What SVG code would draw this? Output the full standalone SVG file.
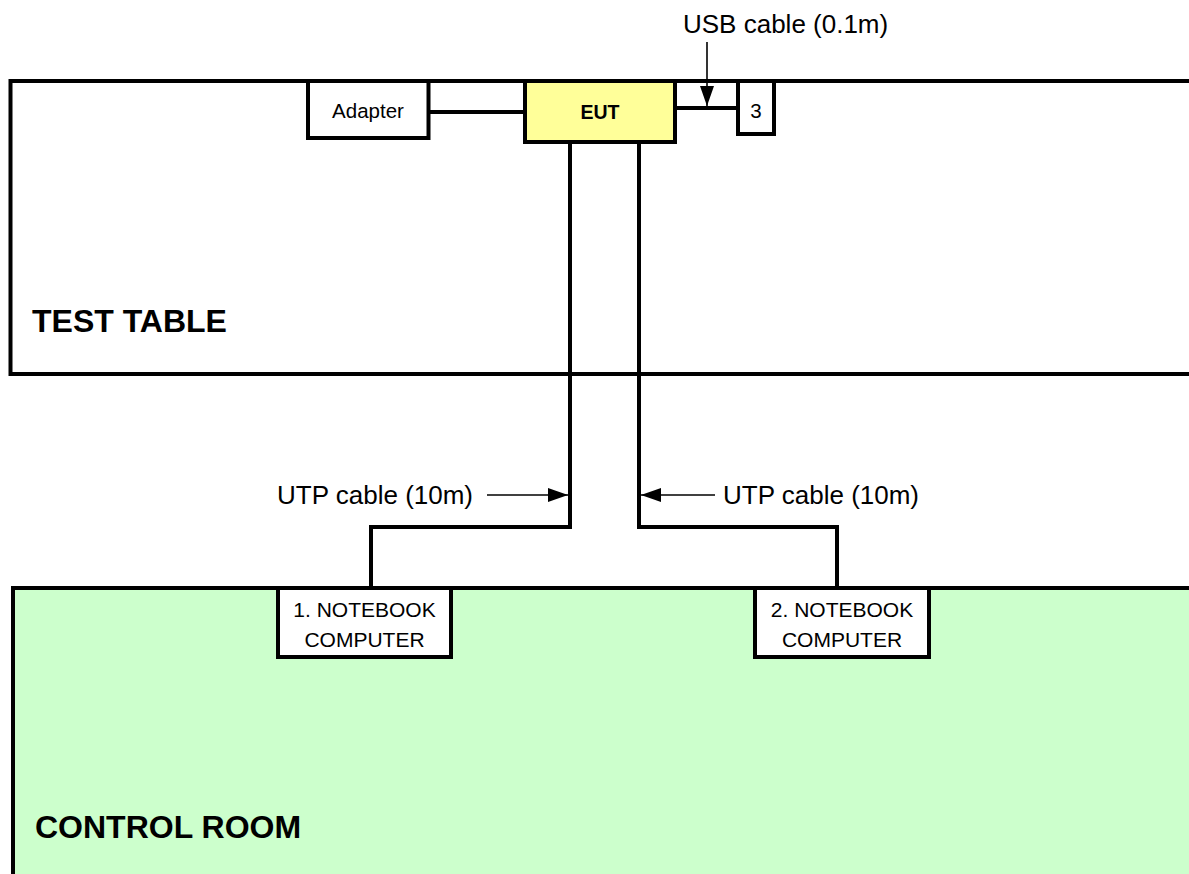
<svg xmlns="http://www.w3.org/2000/svg" width="1189" height="874" viewBox="0 0 1189 874">
<style>
.frame{fill:#fff;stroke:#000;stroke-width:4}
.box{fill:#fff;stroke:#000;stroke-width:4}
.wire{fill:none;stroke:#000;stroke-width:4}
.arr{fill:none;stroke:#000;stroke-width:1.6}
.t{font-family:"Liberation Sans",Arial,sans-serif;fill:#000}
</style>
<defs>
<marker id="ah" markerUnits="userSpaceOnUse" markerWidth="20" markerHeight="16" refX="20" refY="8" orient="auto">
<path d="M0,1 L20,8 L0,15 Z" fill="#000"/>
</marker>
</defs>
<rect width="1189" height="874" fill="#fff"/>
<g id="test-table">
<rect class="frame" x="10.5" y="81" width="1200" height="293"/>
<text class="t" x="32" y="332" font-size="32" font-weight="bold">TEST TABLE</text>
</g>
<g id="control-room">
<rect class="frame" x="13" y="588" width="1200" height="320" style="fill:#CCFFCC"/>
<text class="t" x="35" y="838" font-size="32" font-weight="bold">CONTROL ROOM</text>
</g>
<g id="connectors">
<line class="wire" x1="430" y1="112" x2="525" y2="112"/>
<line class="wire" x1="675" y1="108" x2="738" y2="108"/>
<polyline class="wire" points="570,142 570,527 371,527 371,588"/>
<polyline class="wire" points="639,142 639,527 837,527 837,588"/>
<line class="arr" x1="707" y1="42" x2="707" y2="106" marker-end="url(#ah)"/>
<line class="arr" x1="487" y1="495" x2="568" y2="495" marker-end="url(#ah)"/>
<line class="arr" x1="715" y1="495" x2="641" y2="495" marker-end="url(#ah)"/>
</g>
<g id="adapter">
<rect class="box" x="308" y="81" width="120.5" height="57"/>
<text class="t" x="368" y="118" font-size="20.5" text-anchor="middle">Adapter</text>
</g>
<g id="eut">
<rect class="box" x="525" y="81" width="150" height="61" style="fill:#FFFF99"/>
<text class="t" x="600" y="119" font-size="19.5" font-weight="bold" text-anchor="middle">EUT</text>
</g>
<g id="device-3">
<rect class="box" x="738" y="81" width="36" height="53"/>
<text class="t" x="756" y="118" font-size="20.5" text-anchor="middle">3</text>
</g>
<g id="notebook-1">
<rect class="box" x="278" y="588" width="173" height="69"/>
<text class="t" x="364.5" y="617" font-size="21" text-anchor="middle">1. NOTEBOOK</text>
<text class="t" x="364.5" y="647" font-size="21" text-anchor="middle">COMPUTER</text>
</g>
<g id="notebook-2">
<rect class="box" x="755" y="588" width="174" height="69"/>
<text class="t" x="842" y="617" font-size="21" text-anchor="middle">2. NOTEBOOK</text>
<text class="t" x="842" y="647" font-size="21" text-anchor="middle">COMPUTER</text>
</g>
<g id="labels">
<text class="t" x="683" y="33" font-size="26">USB cable (0.1m)</text>
<text class="t" x="277" y="504" font-size="26">UTP cable (10m)</text>
<text class="t" x="723" y="504" font-size="26">UTP cable (10m)</text>
</g>
</svg>
